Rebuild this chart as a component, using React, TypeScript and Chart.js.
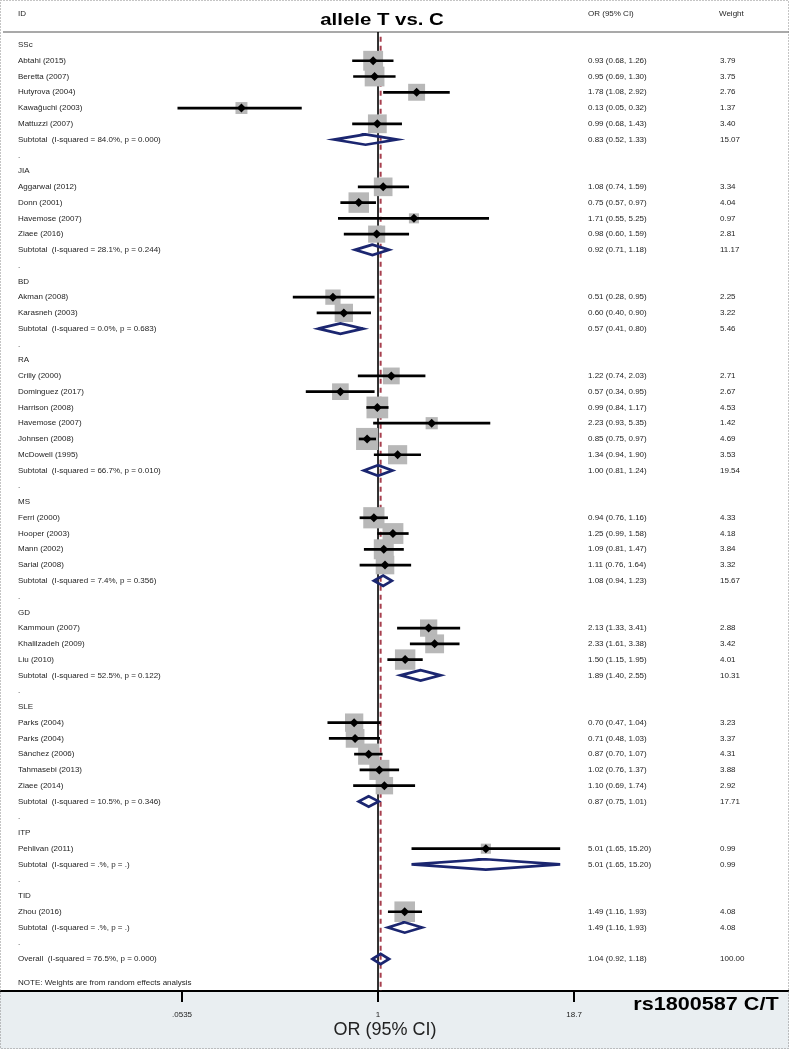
import React, { useEffect, useRef } from 'react';
import { Chart, registerables } from 'chart.js';

Chart.register(...registerables);

// ---------------- DATA ----------------
const groupNames = ['SSc', 'JIA', 'BD', 'RA', 'MS', 'GD', 'SLE', 'ITP', 'TID'];

const studyNames = [
  'Abtahi (2015)', 'Beretta (2007)', 'Hutyrova (2004)', 'Kawağuchi (2003)', 'Mattuzzi (2007)',
  'Aggarwal (2012)', 'Donn (2001)', 'Havemose (2007)', 'Ziaee (2016)',
  'Akman (2008)', 'Karasneh (2003)',
  'Crilly (2000)', 'Dominguez (2017)', 'Harrison (2008)', 'Havemose (2007)', 'Johnsen (2008)', 'McDowell (1995)',
  'Ferri (2000)', 'Hooper (2003)', 'Mann (2002)', 'Sarial (2008)',
  'Kammoun (2007)', 'Khalilzadeh (2009)', 'Liu (2010)',
  'Parks (2004)', 'Parks (2004)', 'Sánchez (2006)', 'Tahmasebi (2013)', 'Ziaee (2014)',
  'Pehlivan (2011)',
  'Zhou (2016)',
];
const studyGroup = [
  0, 0, 0, 0, 0,
  1, 1, 1, 1,
  2, 2,
  3, 3, 3, 3, 3, 3,
  4, 4, 4, 4,
  5, 5, 5,
  6, 6, 6, 6, 6,
  7,
  8,
];
const studyOR = [
  0.93, 0.95, 1.78, 0.13, 0.99,
  1.08, 0.75, 1.71, 0.98,
  0.51, 0.60,
  1.22, 0.57, 0.99, 2.23, 0.85, 1.34,
  0.94, 1.25, 1.09, 1.11,
  2.13, 2.33, 1.50,
  0.70, 0.71, 0.87, 1.02, 1.10,
  5.01,
  1.49,
];
const studyLo = [
  0.68, 0.69, 1.08, 0.05, 0.68,
  0.74, 0.57, 0.55, 0.60,
  0.28, 0.40,
  0.74, 0.34, 0.84, 0.93, 0.75, 0.94,
  0.76, 0.99, 0.81, 0.76,
  1.33, 1.61, 1.15,
  0.47, 0.48, 0.70, 0.76, 0.69,
  1.65,
  1.16,
];
const studyHi = [
  1.26, 1.30, 2.92, 0.32, 1.43,
  1.59, 0.97, 5.25, 1.59,
  0.95, 0.90,
  2.03, 0.95, 1.17, 5.35, 0.97, 1.90,
  1.16, 1.58, 1.47, 1.64,
  3.41, 3.38, 1.95,
  1.04, 1.03, 1.07, 1.37, 1.74,
  15.20,
  1.93,
];
const studyWeight = [
  3.79, 3.75, 2.76, 1.37, 3.40,
  3.34, 4.04, 0.97, 2.81,
  2.25, 3.22,
  2.71, 2.67, 4.53, 1.42, 4.69, 3.53,
  4.33, 4.18, 3.84, 3.32,
  2.88, 3.42, 4.01,
  3.23, 3.37, 4.31, 3.88, 2.92,
  0.99,
  4.08,
];

const subtotalHet = [
  'I-squared = 84.0%, p = 0.000',
  'I-squared = 28.1%, p = 0.244',
  'I-squared = 0.0%, p = 0.683',
  'I-squared = 66.7%, p = 0.010',
  'I-squared = 7.4%, p = 0.356',
  'I-squared = 52.5%, p = 0.122',
  'I-squared = 10.5%, p = 0.346',
  'I-squared = .%, p = .',
  'I-squared = .%, p = .',
];
const subtotalOR = [0.83, 0.92, 0.57, 1.00, 1.08, 1.89, 0.87, 5.01, 1.49];
const subtotalLo = [0.52, 0.71, 0.41, 0.81, 0.94, 1.40, 0.75, 1.65, 1.16];
const subtotalHi = [1.33, 1.18, 0.80, 1.24, 1.23, 2.55, 1.01, 15.20, 1.93];
const subtotalWeight = [15.07, 11.17, 5.46, 19.54, 15.67, 10.31, 17.71, 0.99, 4.08];

const overallHet = 'I-squared = 76.5%, p = 0.000';
const overallOR = 1.04;
const overallLo = 0.92;
const overallHi = 1.18;
const overallWeight = 100.0;

const xTickValues = [0.0535, 1, 18.7];
const xTickLabels = ['.0535', '1', '18.7'];

const titleText = 'allele T vs. C';
const cornerText = 'rs1800587 C/T';
const axisTitle = 'OR (95% CI)';
const noteText = 'NOTE: Weights are from random effects analysis';

// ---------------- LAYOUT / STYLE ----------------
const W = 789;
const H = 1049;
const FONT = '"Liberation Sans", Arial, Helvetica, sans-serif';
const X_MIN = 0.003527;
const X_MAX = 464;
const Y_MIN = -0.825;
const Y_MAX = 60.03;
const DIAMOND_HALF = 0.33;
const BOX_K = 10.2;
const NAVY = '#1b2670';

type Row = {
  kind: 'group' | 'study' | 'subtotal' | 'dot' | 'overall';
  label: string;
  or?: number;
  lo?: number;
  hi?: number;
  w?: number;
};

function buildRows(): Row[] {
  const rows: Row[] = [];
  groupNames.forEach((g, gi) => {
    rows.push({ kind: 'group', label: g });
    studyNames.forEach((n, si) => {
      if (studyGroup[si] === gi) {
        rows.push({ kind: 'study', label: n, or: studyOR[si], lo: studyLo[si], hi: studyHi[si], w: studyWeight[si] });
      }
    });
    rows.push({
      kind: 'subtotal',
      label: `Subtotal  (${subtotalHet[gi]})`,
      or: subtotalOR[gi], lo: subtotalLo[gi], hi: subtotalHi[gi], w: subtotalWeight[gi],
    });
    rows.push({ kind: 'dot', label: '.' });
  });
  rows.push({ kind: 'overall', label: `Overall  (${overallHet})`, or: overallOR, lo: overallLo, hi: overallHi, w: overallWeight });
  return rows;
}

export default function App() {
  const canvasRef = useRef<HTMLCanvasElement | null>(null);

  useEffect(() => {
    const canvas = canvasRef.current;
    if (!canvas) return;
    const rows = buildRows();

    const datasets: any[] = [];

    // reference line at OR = 1
    datasets.push({
      type: 'scatter',
      data: [{ x: 1, y: Y_MIN }, { x: 1, y: Y_MAX }],
      showLine: true,
      borderColor: '#000',
      borderWidth: 1.6,
      pointRadius: 0,
      order: 10,
    });
    // overall estimate dashed line
    datasets.push({
      type: 'scatter',
      data: [{ x: overallOR, y: Y_MIN + 0.3 }, { x: overallOR, y: Y_MAX }],
      showLine: true,
      borderColor: '#a8404f',
      borderWidth: 2,
      borderDash: [5, 4],
      pointRadius: 0,
      order: 9,
    });

    // weight boxes
    const boxPts: any[] = [];
    const boxRadius: number[] = [];
    const markerPts: any[] = [];
    rows.forEach((r, i) => {
      if (r.kind === 'study') {
        boxPts.push({ x: r.or, y: i });
        boxRadius.push((BOX_K * Math.sqrt(r.w as number)) / (2 * Math.SQRT1_2));
        markerPts.push({ x: r.or, y: i });
      }
    });
    datasets.push({
      type: 'scatter',
      data: boxPts,
      pointStyle: 'rect',
      pointRadius: boxRadius,
      backgroundColor: '#b8b8b8',
      borderWidth: 0,
      order: 8,
    });

    // CI lines
    rows.forEach((r, i) => {
      if (r.kind === 'study') {
        datasets.push({
          type: 'scatter',
          data: [{ x: r.lo, y: i }, { x: r.hi, y: i }],
          showLine: true,
          borderColor: '#000',
          borderWidth: 2.7,
          borderCapStyle: 'butt',
          pointRadius: 0,
          order: 7,
        });
      }
    });

    // diamonds for subtotal / overall
    rows.forEach((r, i) => {
      if (r.kind === 'subtotal' || r.kind === 'overall') {
        datasets.push({
          type: 'scatter',
          data: [
            { x: r.lo, y: i },
            { x: r.or, y: i - DIAMOND_HALF },
            { x: r.hi, y: i },
            { x: r.or, y: i + DIAMOND_HALF },
            { x: r.lo, y: i },
            { x: r.or, y: i - DIAMOND_HALF },
          ],
          showLine: true,
          fill: false,
          tension: 0,
          borderColor: NAVY,
          borderWidth: 2.7,
          borderJoinStyle: 'miter',
          pointRadius: 0,
          order: 6,
        });
      }
    });

    // point markers
    datasets.push({
      type: 'scatter',
      data: markerPts,
      pointStyle: 'rectRot',
      pointRadius: 4.5,
      backgroundColor: '#000',
      borderColor: '#000',
      borderWidth: 0,
      order: 1,
    });

    const textPlugin = {
      id: 'forestText',
      beforeDraw(chart: any) {
        const ctx = chart.ctx as CanvasRenderingContext2D;
        const ca = chart.chartArea;
        ctx.save();
        ctx.fillStyle = '#ffffff';
        ctx.fillRect(0, 0, W, H);
        ctx.fillStyle = '#e9eef1';
        ctx.fillRect(0, ca.bottom, W, H - ca.bottom);
        ctx.strokeStyle = '#a9a9a9';
        ctx.lineWidth = 2;
        ctx.beginPath();
        ctx.moveTo(3, ca.top);
        ctx.lineTo(W, ca.top);
        ctx.stroke();
        ctx.restore();
      },
      afterDraw(chart: any) {
        const ctx = chart.ctx as CanvasRenderingContext2D;
        const ys = chart.scales.y;
        const xs = chart.scales.x;
        ctx.save();
        ctx.fillStyle = '#1e1e1e';
        ctx.textBaseline = 'middle';
        ctx.textAlign = 'left';
        ctx.font = `8px ${FONT}`;
        // header
        ctx.fillText('ID', 18, 14);
        ctx.fillText('OR (95% CI)', 588, 14);
        ctx.fillText('Weight', 719, 14);
        rows.forEach((r, i) => {
          const y = ys.getPixelForValue(i);
          ctx.fillText(r.label, 18, y);
          if (r.or !== undefined) {
            const s = `${(r.or as number).toFixed(2)} (${(r.lo as number).toFixed(2)}, ${(r.hi as number).toFixed(2)})`;
            ctx.fillText(s, 588, y);
            ctx.fillText((r.w as number).toFixed(2), 720, y);
          }
        });
        ctx.fillText(noteText, 18, ys.getPixelForValue(rows.length - 1 + 1.5));

        // title
        ctx.fillStyle = '#000';
        ctx.save();
        ctx.translate(382, 20);
        ctx.scale(1.2, 1);
        ctx.textAlign = 'center';
        ctx.font = `bold 17px ${FONT}`;
        ctx.fillText(titleText, 0, 0);
        ctx.restore();

        // corner label
        ctx.save();
        ctx.translate(706, 1005);
        ctx.scale(1.2, 1);
        ctx.textAlign = 'center';
        ctx.font = `bold 18px ${FONT}`;
        ctx.fillText(cornerText, 0, 0);
        ctx.restore();

        // axis title
        ctx.fillStyle = '#222';
        ctx.textAlign = 'center';
        ctx.font = `18px ${FONT}`;
        ctx.fillText(axisTitle, xs.getPixelForValue(1) + 7, 1030);

        // dotted frame
        ctx.strokeStyle = '#8a8a8a';
        ctx.lineWidth = 1;
        ctx.setLineDash([1, 2]);
        ctx.strokeRect(0.5, 0.5, W - 1, H - 1);
        ctx.restore();
      },
    };

    const chart = new Chart(canvas, {
      type: 'scatter',
      data: { datasets },
      options: {
        animation: false,
        responsive: false,
        maintainAspectRatio: false,
        events: [],
        layout: { autoPadding: false, padding: { top: 32, left: 0, right: 0, bottom: 0 } },
        plugins: {
          legend: { display: false },
          tooltip: { enabled: false },
          title: { display: false },
        },
        scales: {
          x: {
            type: 'logarithmic',
            position: 'bottom',
            min: X_MIN,
            max: X_MAX,
            bounds: 'data',
            afterBuildTicks: (s: any) => {
              s.ticks = xTickValues.map((v) => ({ value: v }));
            },
            afterFit: (s: any) => {
              s.height = 58;
            },
            ticks: {
              autoSkip: false,
              maxRotation: 0,
              minRotation: 0,
              padding: 8,
              color: '#222',
              font: { size: 8, family: FONT },
              callback: (_v: any, idx: number) => xTickLabels[idx],
            },
            grid: {
              display: true,
              drawOnChartArea: false,
              drawTicks: true,
              tickLength: 11,
              color: '#000',
              lineWidth: 2,
            },
            border: { display: true, color: '#000', width: 2 },
          },
          y: {
            type: 'linear',
            min: Y_MIN,
            max: Y_MAX,
            reverse: true,
            display: false,
          },
        },
      } as any,
      plugins: [textPlugin],
    });

    return () => {
      chart.destroy();
    };
  }, []);

  return (
    <div style={{ position: 'absolute', left: 0, top: 0, width: W, height: H }}>
      <canvas ref={canvasRef} width={W} height={H} style={{ display: 'block', width: W, height: H }} />
    </div>
  );
}
